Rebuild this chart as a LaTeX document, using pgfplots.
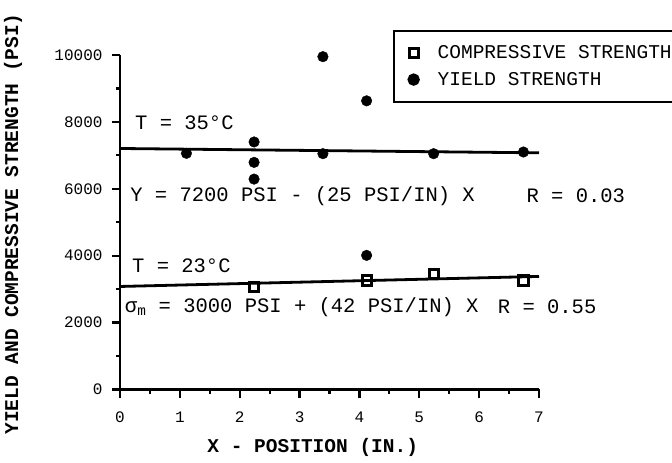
\documentclass[border=0pt]{standalone}
\usepackage{pgfplots}
\pgfplotsset{compat=1.18}
\usepackage{fontspec}
\setmainfont{Liberation Mono}
\newcommand{\annfont}{\fontsize{20.5bp}{24bp}\selectfont}
\newcommand{\legfont}{\fontsize{19.5bp}{23bp}\selectfont}
\newcommand{\labfont}{\fontsize{19.5bp}{23bp}\selectfont\bfseries}
\pgfplotsset{mylegimg/.style={legend image code/.code={\path[draw=none,fill=none] (0bp,0bp) (38bp,0bp); \draw[##1] plot coordinates {(16bp,0bp)};}}}
\begin{document}
\begin{tikzpicture}
\begin{axis}[
  at={(120bp,73.5bp)}, anchor=south west,
  scale only axis, width=419bp, height=334.5bp,
  xmin=0, xmax=7, ymin=0, ymax=10000,
  axis x line=bottom, axis y line=left,
  axis line style={-, line width=2.6bp},
  xtick={0,1,...,7}, minor xtick={0.5,1.5,...,6.5},
  ytick={0,2000,...,10000}, minor ytick={1000,3000,...,9000},
  tick align=outside,
  major tick length=8bp, minor tick length=4bp,
  every tick/.style={black, line width=2.2bp},
  /pgf/number format/1000 sep={},
  /pgf/number format/assume math mode=true,
  scaled y ticks=false,
  tick label style={font=\fontsize{16bp}{19bp}\selectfont},
  xticklabel style={yshift=-11bp},
  yticklabel style={xshift=-6bp},
  xlabel={X - POSITION (IN.)},
  ylabel={YIELD AND COMPRESSIVE STRENGTH (PSI)},
  xlabel style={font=\labfont, at={(axis description cs:0.46,0)}, anchor=center, yshift=-58bp},
  ylabel style={font=\labfont, at={(axis description cs:0,0.495)}, anchor=center, yshift=107bp},
  legend style={at={(axis description cs:0.651,1.075)}, anchor=north west,
    draw=black, line width=1.8bp, font=\legfont, row sep=8bp,
    inner xsep=4bp, inner ysep=13bp},
  legend cell align=left,
  clip=false,
]
% fit lines
\addplot[black, line width=2.8bp, forget plot] coordinates {(0,7205) (7,7075)};
\addplot[black, line width=2.8bp, forget plot] coordinates {(0,3080) (7,3380)};
% compressive strength
\addplot[only marks, mark=square, mark size=4.6bp, mark options={line width=3bp, black}, mylegimg]
  coordinates {(2.24,3060) (4.12,3260) (5.24,3460) (6.74,3260)};
\addlegendentry{COMPRESSIVE STRENGTH}
% yield strength
\addplot[only marks, mark=*, mark size=5.3bp, mark options={black, fill=black}, mylegimg]
  coordinates {(1.11,7060) (2.24,7400) (2.24,6790) (2.24,6290) (3.39,9950)
               (3.39,7050) (4.12,8630) (4.12,4010) (5.24,7050) (6.74,7100)};
\addlegendentry{YIELD STRENGTH}
% annotations
\node[anchor=west, inner sep=0, font=\annfont] at (axis cs:0.25,7967) {T = 35°C};
\node[anchor=west, inner sep=0, font=\annfont] at (axis cs:0.17,5785) {Y = 7200 PSI - (25 PSI/IN) X};
\node[anchor=west, inner sep=0, font=\annfont] at (axis cs:6.79,5785) {R = 0.03};
\node[anchor=west, inner sep=0, font=\annfont] at (axis cs:0.2,3700) {T = 23°C};
\node[anchor=west, inner sep=0, font=\annfont] at (axis cs:0.08,2466) {σ\textsubscript{m} = 3000 PSI + (42 PSI/IN) X};
\node[anchor=west, inner sep=0, font=\annfont] at (axis cs:6.31,2466) {R = 0.55};
\end{axis}
\pgfresetboundingbox
\useasboundingbox (0,0) rectangle (672bp,463bp);
\end{tikzpicture}
\end{document}
